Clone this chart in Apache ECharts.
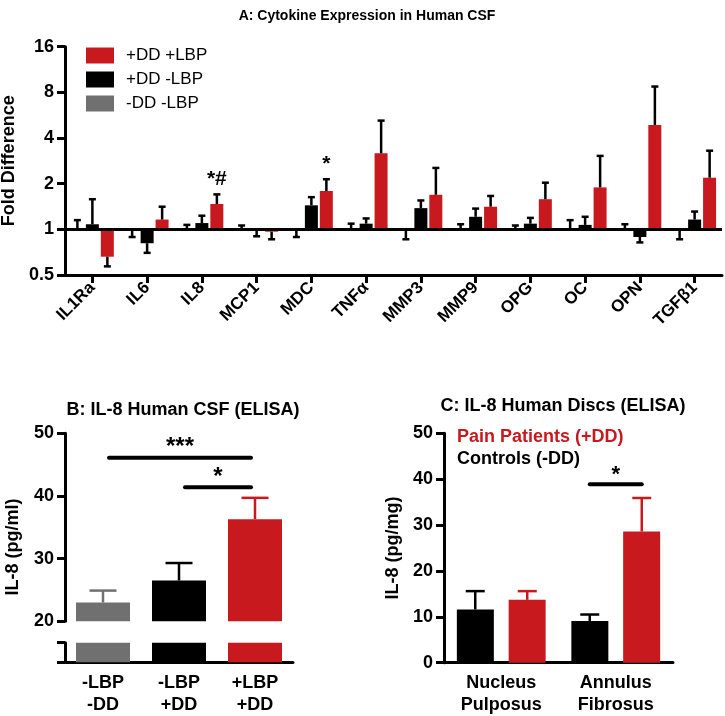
<!DOCTYPE html>
<html>
<head>
<meta charset="utf-8">
<script src="https://cdn.jsdelivr.net/npm/echarts@6/dist/echarts.min.js"></script>
<style>
  html, body { margin: 0; padding: 0; background: #fff; }
  #main { width: 725px; height: 716px; }
</style>
</head>
<body>
<div id="main"></div>
<script>
// A: cytokine fold difference (log2 axis, bars from 1)
var cytokines = ['IL1Ra', 'IL6', 'IL8', 'MCP1', 'MDC', 'TNFα', 'MMP3', 'MMP9', 'OPG', 'OC', 'OPN', 'TGFβ1'];
var foldTicks = [0.5, 1, 2, 4, 8, 16];
var ctrlMean = [1.01, 0.99, 1.01, 1.01, 0.99, 1.01, 0.99, 1.01, 1.01, 1.01, 1.01, 0.99];
var ctrlErr = [1.15, 0.89, 1.07, 1.06, 0.89, 1.09, 0.86, 1.08, 1.06, 1.15, 1.08, 0.86];
var ddMean = [1.08, 0.81, 1.10, 0.99, 1.44, 1.09, 1.38, 1.21, 1.09, 1.07, 0.89, 1.16];
var ddErr = [1.58, 0.70, 1.23, 0.90, 1.63, 1.18, 1.55, 1.37, 1.19, 1.21, 0.82, 1.31];
var lbpMean = [0.66, 1.16, 1.47, 0.965, 1.79, 3.17, 1.69, 1.41, 1.58, 1.89, 4.88, 2.19];
var lbpErr = [0.57, 1.41, 1.70, 0.86, 2.14, 5.21, 2.54, 1.66, 2.03, 3.05, 8.74, 3.30];
var lbpSig = ['', '', '*#', '', '*', '', '', '', '', '', '', ''];

// B: IL-8 in CSF (broken axis)
var csfGroups = ['-LBP\n-DD', '-LBP\n+DD', '+LBP\n+DD'];
var csfMean = [23.0, 26.5, 36.3];
var csfErr = [24.9, 29.3, 39.7];
var csfSigFrom = [0, 1];
var csfSigTo = [2, 2];
var csfSigLevel = [46.1, 41.4];
var csfSigText = ['***', '*'];

// C: IL-8 in discs
var discRegions = ['Nucleus\nPulposus', 'Annulus\nFibrosus'];
var ctrlDisc = [11.6, 9.1];
var ctrlDiscErr = [15.6, 10.5];
var painDisc = [13.7, 28.6];
var painDiscErr = [15.6, 35.9];
var discSigCat = [1];
var discSigLevel = [38.9];
var discSigText = ['*'];

var RED = '#c8191e', GREY = '#707070', BLACK = '#000';
var FONT = 'Liberation Sans, Arial, Helvetica, sans-serif';

var myChart = echarts.init(document.getElementById('main'));

function axisLine() {
  return { show: true, lineStyle: { color: BLACK, width: 3 } };
}
function tickStyle(len) {
  return { show: true, length: len, lineStyle: { color: BLACK, width: 3 } };
}
function boldLabel(size, margin) {
  return { color: BLACK, fontFamily: FONT, fontWeight: 'bold', fontSize: size, margin: margin };
}

// error bars drawn through the axes
function errorBars(xi, yi, means, ends, colors, offset, capW) {
  return {
    type: 'custom', xAxisIndex: xi, yAxisIndex: yi, z: 4, silent: true,
    data: means.map(function (m, i) { return [i, m, ends[i]]; }),
    encode: { x: 0, y: 1 },
    renderItem: function (params, api) {
      var base = api.coord([api.value(0), api.value(1)]);
      var top = api.coord([api.value(0), api.value(2)]);
      var x = base[0] + offset;
      var col = Array.isArray(colors) ? colors[params.dataIndex] : colors;
      var st = { stroke: col, lineWidth: 2.5 };
      return {
        type: 'group', children: [
          { type: 'line', shape: { x1: x, y1: base[1], x2: x, y2: top[1] }, style: st },
          { type: 'line', shape: { x1: x - capW / 2, y1: top[1], x2: x + capW / 2, y2: top[1] }, style: st }
        ]
      };
    }
  };
}

// significance bars between categories
function sigBars(xi, yi, from, to, level, texts, inset, fontSize) {
  return {
    type: 'custom', xAxisIndex: xi, yAxisIndex: yi, z: 5, silent: true,
    data: level.map(function (v, i) { return [from[i], v, to[i]]; }),
    encode: { x: 0, y: 1 },
    renderItem: function (params, api) {
      var a = api.coord([api.value(0), api.value(1)]);
      var b = api.coord([api.value(2), api.value(1)]);
      var x1 = a[0] + inset[0], x2 = b[0] + inset[1];
      return {
        type: 'group', children: [
          { type: 'line', shape: { x1: x1, y1: a[1], x2: x2, y2: a[1] },
            style: { stroke: BLACK, lineWidth: 4, lineCap: 'round' } },
          { type: 'text', x: (x1 + x2) / 2, y: a[1] + 2,
            style: { text: texts[params.dataIndex], align: 'center', verticalAlign: 'bottom',
              fontFamily: FONT, fontWeight: 'bold', fontSize: fontSize, fill: BLACK } }
        ]
      };
    }
  };
}

var option = {
  animation: false,
  backgroundColor: '#fff',
  textStyle: { fontFamily: FONT },
  title: [
    { text: 'A: Cytokine Expression in Human CSF', left: 362, top: 4, textAlign: 'center',
      textStyle: { fontFamily: FONT, fontWeight: 'bold', fontSize: 14, color: BLACK } },
    { text: 'B: IL-8 Human CSF (ELISA)', left: 178, top: 396, textAlign: 'center',
      textStyle: { fontFamily: FONT, fontWeight: 'bold', fontSize: 18, color: BLACK } },
    { text: 'C: IL-8 Human Discs (ELISA)', left: 558, top: 392, textAlign: 'center',
      textStyle: { fontFamily: FONT, fontWeight: 'bold', fontSize: 18, color: BLACK } }
  ],
  legend: [
    { data: ['+DD +LBP', '+DD -LBP', '-DD -LBP'], orient: 'vertical', left: 81, top: 42,
      icon: 'rect', itemWidth: 28, itemHeight: 16, itemGap: 7, padding: 5,
      textStyle: { fontFamily: FONT, fontSize: 17, color: BLACK, padding: [0, 0, 0, 7] } },
    { data: [
        { name: 'Pain Patients (+DD)', textStyle: { color: RED } },
        { name: 'Controls (-DD)', textStyle: { color: BLACK } }
      ], orient: 'vertical', left: 452, top: 428, icon: 'none', itemWidth: 0, itemGap: 4, padding: 0,
      selectedMode: false,
      textStyle: { fontFamily: FONT, fontWeight: 'bold', fontSize: 18 } }
  ],
  grid: [
    { left: 65, top: 46.7, width: 657, height: 228.3, outerBoundsMode: 'none' },
    { left: 65, top: 433.3, width: 228, height: 188, outerBoundsMode: 'none' },
    { left: 65, top: 642.7, width: 228, height: 19.6, outerBoundsMode: 'none' },
    { left: 444, top: 433.3, width: 229, height: 229.4, outerBoundsMode: 'none' }
  ],
  xAxis: [
    { type: 'category', gridIndex: 0, data: cytokines, axisLine: axisLine(),
      axisTick: Object.assign(tickStyle(8), { alignWithLabel: true }),
      axisLabel: Object.assign(boldLabel(17, 10), { rotate: 45, interval: 0 }) },
    { type: 'category', gridIndex: 1, data: csfGroups, show: false },
    { type: 'category', gridIndex: 2, data: csfGroups, axisLine: axisLine(), axisTick: { show: false },
      axisLabel: Object.assign(boldLabel(18, 10), { lineHeight: 22, interval: 0 }) },
    { type: 'category', gridIndex: 3, data: discRegions, axisLine: axisLine(), axisTick: { show: false },
      axisLabel: Object.assign(boldLabel(18, 9), { lineHeight: 22, interval: 0 }) }
  ],
  yAxis: [
    { type: 'log', logBase: 2, gridIndex: 0, min: foldTicks[0], max: foldTicks[foldTicks.length - 1],
      axisLine: axisLine(), axisTick: tickStyle(8), splitLine: { show: false },
      axisLabel: Object.assign(boldLabel(18, 11), {
        formatter: function (v) { return String(Math.round(v * 100) / 100); } }),
      name: 'Fold Difference', nameLocation: 'middle', nameGap: 42,
      nameTextStyle: { fontFamily: FONT, fontWeight: 'bold', fontSize: 18, color: BLACK } },
    { type: 'value', gridIndex: 1, min: 20, max: 50, interval: 10,
      axisLine: axisLine(), axisTick: tickStyle(8), splitLine: { show: false },
      axisLabel: boldLabel(18, 11) },
    { type: 'value', gridIndex: 2, min: 0, max: 20, interval: 20,
      axisLine: axisLine(), axisTick: tickStyle(8), splitLine: { show: false },
      axisLabel: { show: false } },
    { type: 'value', gridIndex: 3, min: 0, max: 50, interval: 10,
      axisLine: axisLine(), axisTick: tickStyle(8), splitLine: { show: false },
      axisLabel: boldLabel(18, 11),
      name: 'IL-8 (pg/mg)', nameLocation: 'middle', nameGap: 42,
      nameTextStyle: { fontFamily: FONT, fontWeight: 'bold', fontSize: 18, color: BLACK } }
  ],
  graphic: [
    { type: 'text', x: 13, y: 547, rotation: Math.PI / 2,
      style: { text: 'IL-8 (pg/ml)', align: 'center', verticalAlign: 'middle',
        fontFamily: FONT, fontWeight: 'bold', fontSize: 18, fill: BLACK } }
  ],
  series: [
    // A
    { name: '-DD -LBP', type: 'bar', xAxisIndex: 0, yAxisIndex: 0, data: ctrlMean,
      barWidth: 13, barGap: '15%', itemStyle: { color: GREY },
      markLine: { silent: true, symbol: ['none', 'none'], label: { show: false },
        lineStyle: { color: BLACK, width: 3, type: 'solid' }, data: [{ yAxis: 1 }] } },
    { name: '+DD -LBP', type: 'bar', xAxisIndex: 0, yAxisIndex: 0, data: ddMean,
      barWidth: 13, barGap: '15%', itemStyle: { color: BLACK } },
    { name: '+DD +LBP', type: 'bar', xAxisIndex: 0, yAxisIndex: 0, data: lbpMean,
      barWidth: 13, barGap: '15%', itemStyle: { color: RED } },
    errorBars(0, 0, ctrlMean, ctrlErr, BLACK, -15, 7),
    errorBars(0, 0, ddMean, ddErr, BLACK, 0, 7),
    errorBars(0, 0, lbpMean, lbpErr, BLACK, 15, 7),
    { type: 'custom', xAxisIndex: 0, yAxisIndex: 0, z: 5, silent: true,
      data: lbpErr.map(function (v, i) { return [i, v]; }),
      encode: { x: 0, y: 1 },
      renderItem: function (params, api) {
        var t = lbpSig[params.dataIndex];
        if (!t) return null;
        var p = api.coord([api.value(0), api.value(1)]);
        return { type: 'text', x: p[0] + 15, y: p[1] - 5,
          style: { text: t, align: 'center', verticalAlign: 'bottom', fontFamily: FONT,
            fontWeight: 'bold', fontSize: 21, fill: BLACK } };
      } },
    // B
    { type: 'bar', xAxisIndex: 1, yAxisIndex: 1, barWidth: 54, clip: true,
      data: csfMean.map(function (v, i) { return { value: v, itemStyle: { color: [GREY, BLACK, RED][i] } }; }) },
    { type: 'bar', xAxisIndex: 2, yAxisIndex: 2, barWidth: 54, clip: true,
      data: csfMean.map(function (v, i) { return { value: v, itemStyle: { color: [GREY, BLACK, RED][i] } }; }) },
    errorBars(1, 1, csfMean, csfErr, [GREY, BLACK, RED], 0, 27),
    sigBars(1, 1, csfSigFrom, csfSigTo, csfSigLevel, csfSigText, [6, -4], 24),
    // C
    { name: 'Controls (-DD)', type: 'bar', xAxisIndex: 3, yAxisIndex: 3, data: ctrlDisc,
      barWidth: 37, barGap: '40%', itemStyle: { color: BLACK } },
    { name: 'Pain Patients (+DD)', type: 'bar', xAxisIndex: 3, yAxisIndex: 3, data: painDisc,
      barWidth: 37, barGap: '40%', itemStyle: { color: RED } },
    errorBars(3, 3, ctrlDisc, ctrlDiscErr, BLACK, -26, 19),
    errorBars(3, 3, painDisc, painDiscErr, RED, 26, 19),
    sigBars(3, 3, discSigCat, discSigCat, discSigLevel, discSigText, [-26, 26], 22)
  ]
};

option && myChart.setOption(option);
</script>
</body>
</html>
